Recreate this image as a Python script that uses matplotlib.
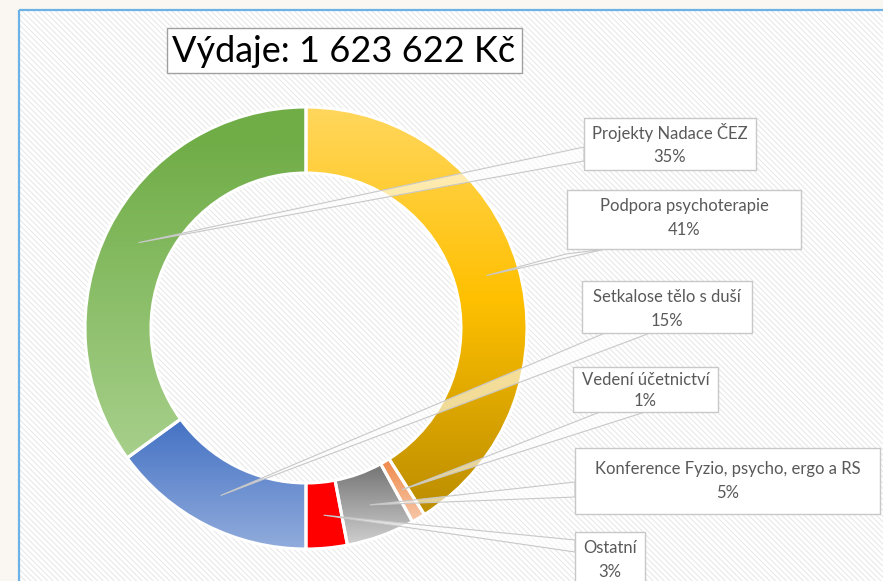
import numpy as np
import matplotlib
matplotlib.use("Agg")
from matplotlib import pyplot as plt
from matplotlib.patches import Rectangle, Polygon
from matplotlib.colors import to_rgb

# chart data
categories = ["Podpora psychoterapie", "Vedení účetnictví",
              "Konference Fyzio, psycho, ergo a RS", "Ostatní",
              "Setkalose tělo s duší", "Projekty Nadace ČEZ"]
shares = [41, 1, 5, 3, 15, 35]
title = "Výdaje: 1 623 622 Kč"

# gradient stops per slice (top -> bottom, pixel y)
grads = [
    [(105, "#ffd75e"), (300, "#ffc000"), (500, "#bf9000")],
    [(455, "#ef8443"), (515, "#f6c2a0")],
    [(470, "#7a7a7a"), (545, "#cfcfcf")],
    [(470, "#ff0000"), (550, "#ff0000")],
    [(420, "#4472c4"), (550, "#92acdc")],
    [(140, "#70ad47"), (470, "#a9d18e")],
]

# label boxes (x0, y0, x1, y1) in pixels, and leader base points
boxes = [(567, 190, 801, 249), (573, 367, 718, 412), (575, 448, 880, 514),
         (575, 532, 645, 600), (582, 281, 752, 333), (584, 118, 756, 170)]
line_y = [(206, 230), (380, 401), (469, 493), (548, 572), (297, 321), (133, 157)]
bases = [((566, 254), (606, 249)), ((600, 412), (645, 412)),
         ((575, 482), (575, 497)), ((575, 540), (575, 552)),
         ((605, 333), (650, 333)), ((584, 147), (584, 161))]

W, H = 883, 581
fig = plt.figure(figsize=(W / 100, H / 100), dpi=100, facecolor="#faf7f2")
ax = fig.add_axes([0, 0, 1, 1])

cx, cy, R, ring = 306, 328, 221, 66
wedges, _ = ax.pie(shares, radius=R, center=(cx, cy), startangle=-90,
                   counterclock=True,
                   wedgeprops=dict(width=ring, edgecolor="white", linewidth=2.2))
ax.set_xlim(0, W)
ax.set_ylim(H, 0)
ax.set_aspect("equal")
ax.axis("off")

# panel background with fine stripes and blue border
plt.rcParams["hatch.linewidth"] = 0.7
ax.add_patch(Rectangle((19, 10), 900, 600, facecolor="white",
                       edgecolor="#e6e6e6", hatch="\\" * 6, lw=0, zorder=0))
ax.add_patch(Rectangle((19, 10), 900, 600, facecolor="none",
                       edgecolor="#6cb2e6", lw=1.6, zorder=0.5))

# gradient fill for each slice
for w, stops in zip(wedges, grads):
    w.set_facecolor("none")
    w.set_zorder(2)
    ys = np.array([s[0] for s in stops], float)
    cols = np.array([to_rgb(s[1]) for s in stops])
    yy = np.arange(cy - R - 5, cy + R + 5)
    img = np.stack([np.interp(yy, ys, cols[:, k]) for k in range(3)], axis=1)
    img = np.repeat(img[:, None, :], 2, axis=1)
    im = ax.imshow(img, extent=(cx - R - 5, cx + R + 5, yy[-1], yy[0]),
                   aspect="auto", zorder=1, interpolation="bilinear")
    im.set_clip_path(w)

# leaders and labels
for w, name, pct, box, ly, base in zip(wedges, categories, shares, boxes, line_y, bases):
    mid = np.deg2rad((w.theta1 + w.theta2) / 2)
    rm = R - ring / 2
    tip = (cx + rm * np.cos(mid), cy + rm * np.sin(mid))
    ax.add_patch(Polygon([base[0], base[1], tip], closed=True,
                         facecolor=(1, 1, 1, 0.6), edgecolor="#c8c8c8",
                         lw=0.8, zorder=3))
    x0, y0, x1, y1 = box
    ax.add_patch(Rectangle((x0, y0), x1 - x0, y1 - y0, facecolor="white",
                           edgecolor="#c8c8c8", lw=1, zorder=4))
    xm = (x0 + x1) / 2
    ax.text(xm, ly[0], name, ha="center", va="center", fontsize=12,
            family="Lato", color="#595959", zorder=5)
    ax.text(xm, ly[1], f"{pct}%", ha="center", va="center", fontsize=12,
            family="Lato", color="#595959", zorder=5)

# title box
ax.add_patch(Rectangle((167, 28), 355, 45, facecolor="white",
                       edgecolor="#a0a0a0", lw=1, zorder=4))
ax.text(344, 51, title, ha="center", va="center", fontsize=26,
        family="Lato", color="black", zorder=5)

fig.savefig("out.png", dpi=100, facecolor=fig.get_facecolor())
